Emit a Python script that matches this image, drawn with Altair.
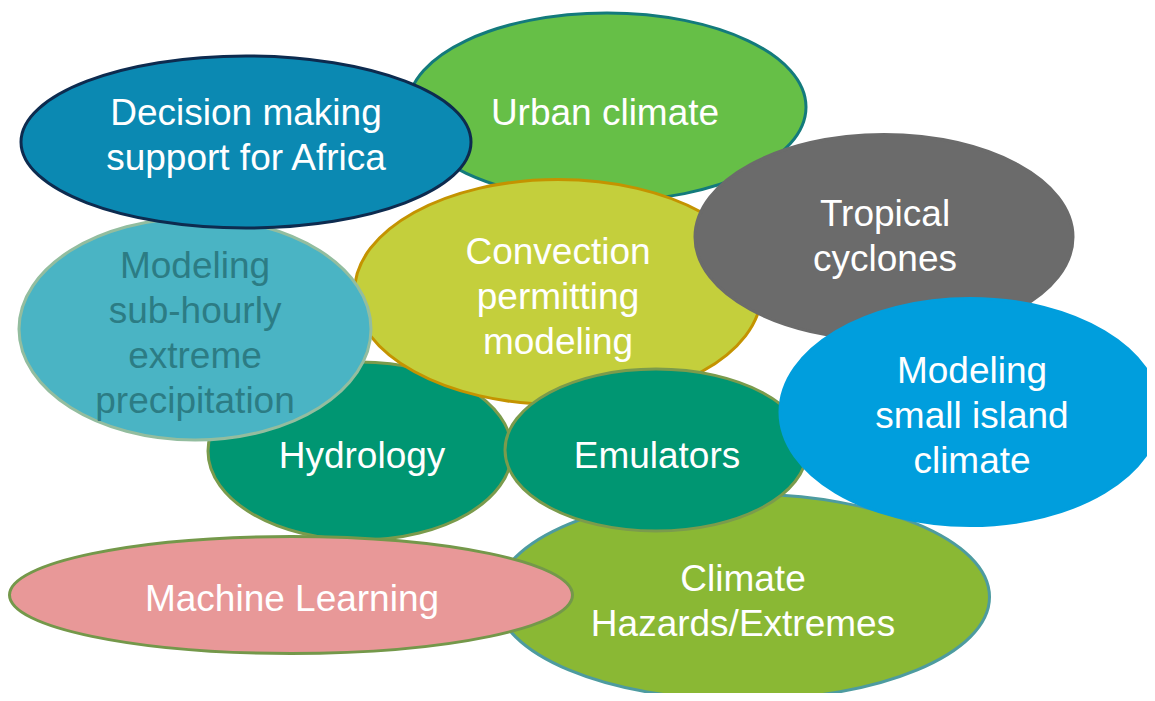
import altair as alt
import pandas as pd

# Bubbles listed in drawing order (back to front)
labels = [
    "Urban climate",
    "Hydrology",
    "Convection\npermitting\nmodeling",
    "Modeling\nsub-hourly\nextreme\nprecipitation",
    "Decision making\nsupport for Africa",
    "Climate\nHazards/Extremes",
    "Emulators",
    "Tropical\ncyclones",
    "Modeling\nsmall island\nclimate",
    "Machine Learning",
]
center_x = [607, 360, 558, 195, 246, 743, 656, 884, 970, 291]
center_y = [107, 451, 292, 329, 142, 597, 450, 237, 412, 595]
bubble_w = [398, 304, 407, 352, 450, 493, 302, 378, 380, 563]
bubble_h = [188, 178, 225, 222, 172, 206, 162, 205, 227, 117]
# position of the first text line of each label
label_x = [605, 362, 558, 195, 246, 743, 657, 885, 972, 292]
label_y = [114, 457, 253, 267, 114, 580, 457, 215, 372, 600]

fills = ["#66bf47", "#009672", "#c4cf3c", "#4ab4c4", "#0b89b2",
         "#8ab834", "#009672", "#6b6b6b", "#009edd", "#e89898"]
strokes = ["#137a7c", "#7b9b4c", "#c49300", "#93bd9f", "#0d2b4f",
           "#4d9ba0", "#7b9b4c", "#6b6b6b", "#009edd", "#74984a"]
text_colors = ["#ffffff", "#ffffff", "#ffffff", "#2c7c84", "#ffffff",
               "#ffffff", "#ffffff", "#ffffff", "#ffffff", "#ffffff"]


def ellipse_path(w, h):
    if w >= h:
        r = h / w
        return f"M-1,0A1,{r:.4f} 0 1,1 1,0A1,{r:.4f} 0 1,1 -1,0Z"
    r = w / h
    return f"M0,-1A{r:.4f},1 0 1,1 0,1A{r:.4f},1 0 1,1 0,-1Z"


df = pd.DataFrame({
    "order": list(range(len(labels))),
    "label": labels,
    "cx": center_x,
    "cy": center_y,
    "lx": label_x,
    "ly": label_y,
    "path": [ellipse_path(w, h) for w, h in zip(bubble_w, bubble_h)],
    "size": [max(w, h) ** 2 for w, h in zip(bubble_w, bubble_h)],
    "fill": fills,
    "stroke": strokes,
    "tcolor": text_colors,
})

xs = alt.Scale(domain=[8, 1147], nice=False, zero=False)
ys = alt.Scale(domain=[8, 693], nice=False, zero=False, reverse=True)

bubbles = alt.Chart(df).mark_point(filled=True, opacity=1, strokeWidth=3).encode(
    x=alt.X("cx:Q", scale=xs, axis=None),
    y=alt.Y("cy:Q", scale=ys, axis=None),
    shape=alt.Shape("path:N", scale=None),
    size=alt.Size("size:Q", scale=None),
    fill=alt.Fill("fill:N", scale=None),
    stroke=alt.Stroke("stroke:N", scale=None),
    order=alt.Order("order:Q"),
)

texts = alt.Chart(df).mark_text(
    font="Liberation Sans", fontSize=37, lineHeight=45, lineBreak="\n",
    align="center", baseline="middle",
).encode(
    x=alt.X("lx:Q", scale=xs, axis=None),
    y=alt.Y("ly:Q", scale=ys, axis=None),
    text="label:N",
    color=alt.Color("tcolor:N", scale=None),
)

chart = alt.layer(bubbles, texts).properties(
    width=1139, height=685, padding=0, autosize="none"
).configure_view(stroke=None)

chart.save("out.html", embed_options={"renderer": "svg", "actions": False})
